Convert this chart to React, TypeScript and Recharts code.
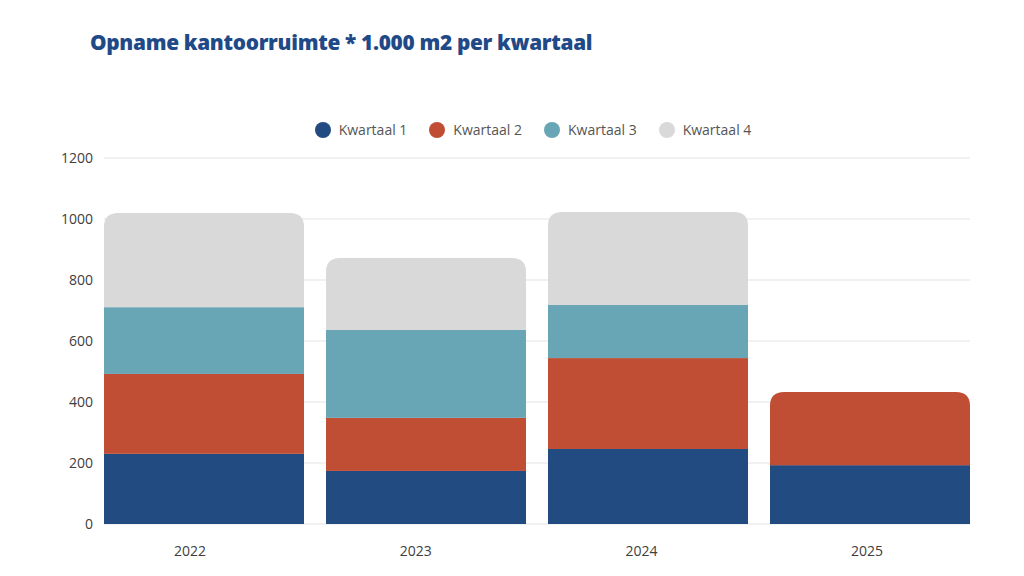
import { Bar, BarChart, CartesianGrid, XAxis, YAxis } from "recharts";

const years = ["2022", "2023", "2024", "2025"];
const kwartaal1 = [230, 174, 246, 193];
const kwartaal2 = [262, 174, 298, 240];
const kwartaal3 = [219, 288, 174, 0];
const kwartaal4 = [309, 236, 305, 0];
const yTicks = [0, 200, 400, 600, 800, 1000, 1200];

const series = [
  { key: "q1", name: "Kwartaal 1", color: "#224b82" },
  { key: "q2", name: "Kwartaal 2", color: "#c04e35" },
  { key: "q3", name: "Kwartaal 3", color: "#69a6b5" },
  { key: "q4", name: "Kwartaal 4", color: "#d9d9d9" },
];

const data = years.map((year, i) => {
  const row: Record<string, any> = {
    year,
    q1: kwartaal1[i],
    q2: kwartaal2[i],
    q3: kwartaal3[i],
    q4: kwartaal4[i],
  };
  // the highest non-empty segment gets rounded corners
  row.top = ["q4", "q3", "q2", "q1"].find((k) => row[k] > 0);
  return row;
});

const FONT = "'Open Sans', 'Noto Sans', sans-serif";

function makeShape(key: string, color: string) {
  return (props: any) => {
    const { x, y, width, height, payload } = props;
    if (!height || height <= 0) return <g />;
    if (payload.top !== key) {
      return <rect x={x} y={y} width={width} height={height} fill={color} />;
    }
    const r = Math.min(14, height, width / 2);
    const d = `M${x},${y + height} L${x},${y + r} Q${x},${y} ${x + r},${y} L${x + width - r},${y} Q${x + width},${y} ${x + width},${y + r} L${x + width},${y + height} Z`;
    return <path d={d} fill={color} />;
  };
}

function YearTick({ x, y, payload, index }: any) {
  return (
    <text x={x - 14 + index * 3.7} y={y + 24} textAnchor="middle" fill="#404040" fontSize={14} fontFamily={FONT}>
      {payload.value}
    </text>
  );
}

export default function App() {
  return (
    <div style={{ position: "absolute", left: 0, top: 0, width: 1024, height: 576, background: "#fff" }}>
      <div
        style={{
          position: "absolute",
          left: 90,
          top: 28,
          fontFamily: FONT,
          fontWeight: 800,
          fontSize: 20.8,
          color: "#1f4a87",
          letterSpacing: -0.3,
        }}
      >
        Opname kantoorruimte * 1.000 m2 per kwartaal
      </div>
      <div
        style={{
          position: "absolute",
          top: 120,
          left: 0,
          width: 1066,
          display: "flex",
          justifyContent: "center",
          gap: 22,
          fontFamily: FONT,
          fontSize: 14,
          color: "#555",
        }}
      >
        {series.map((s) => (
          <span key={s.key} style={{ display: "flex", alignItems: "center", gap: 8 }}>
            <span style={{ width: 16, height: 16, borderRadius: "50%", background: s.color, display: "inline-block" }} />
            {s.name}
          </span>
        ))}
      </div>
      <BarChart
        width={1024}
        height={576}
        data={data}
        margin={{ top: 158, right: 43, bottom: 22, left: 33 }}
        barSize={200}
      >
        <CartesianGrid vertical={false} stroke="#e3e3e3" x={104} width={866} />
        <XAxis
          dataKey="year"
          tickLine={false}
          axisLine={false}
          height={30}
          tick={<YearTick />}
        />
        <YAxis
          domain={[0, 1200]}
          ticks={yTicks}
          width={60}
          tickLine={false}
          axisLine={false}
          tickSize={0}
          tickMargin={0}
          tick={{ fontSize: 14, fill: "#404040", fontFamily: FONT }}
        />
        {series.map((s) => (
          <Bar
            key={s.key}
            dataKey={s.key}
            name={s.name}
            stackId="a"
            fill={s.color}
            shape={makeShape(s.key, s.color)}
            isAnimationActive={false}
          />
        ))}
      </BarChart>
    </div>
  );
}
